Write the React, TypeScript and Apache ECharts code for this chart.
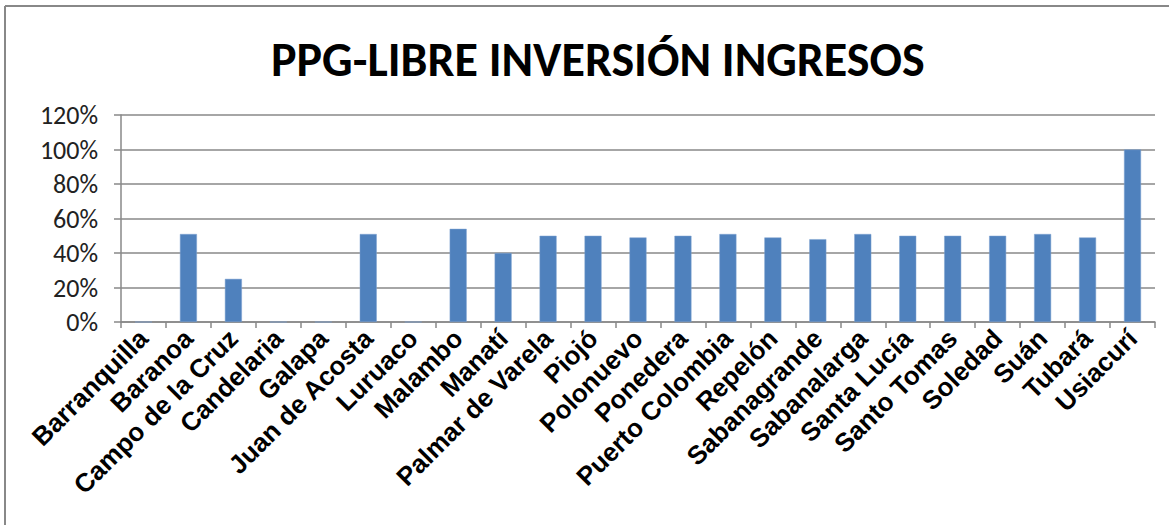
import React, { useEffect, useRef } from "react";
import * as echarts from "echarts";

const TITLE = "PPG-LIBRE INVERSIÓN INGRESOS";
const categories = [
  "Barranquilla", "Baranoa", "Campo de la Cruz", "Candelaria", "Galapa",
  "Juan de Acosta", "Luruaco", "Malambo", "Manatí", "Palmar de Varela",
  "Piojó", "Polonuevo", "Ponedera", "Puerto Colombia", "Repelón",
  "Sabanagrande", "Sabanalarga", "Santa Lucía", "Santo Tomas", "Soledad",
  "Suán", "Tubará", "Usiacurí",
];
const values = [
  0, 51, 25, 0, 0,
  51, 0, 54, 40, 50,
  50, 49, 50, 51, 49,
  48, 51, 50, 50, 50,
  51, 49, 100,
];
const yTicks = [0, 20, 40, 60, 80, 100, 120];

export default function App() {
  const ref = useRef<HTMLDivElement>(null);
  useEffect(() => {
    document.body.style.margin = "0";
    if (!ref.current) return;
    const chart = echarts.init(ref.current, undefined, { renderer: "svg" });
    chart.setOption({
      animation: false,
      backgroundColor: "#ffffff",
      title: {
        text: TITLE,
        left: 266,
        top: 30,
        textStyle: {
          fontFamily: "Carlito, Lato, sans-serif",
          fontWeight: "bold",
          fontSize: 48,
          color: "#000000",
        },
      },
      graphic: [
        { type: "line", shape: { x1: 5, y1: 6, x2: 1169, y2: 6 }, style: { stroke: "#888888", lineWidth: 2 } },
        { type: "line", shape: { x1: 5, y1: 6, x2: 5, y2: 525 }, style: { stroke: "#888888", lineWidth: 2 } },
      ],
      grid: { left: 121, top: 115, width: 1034, height: 207, containLabel: false },
      xAxis: {
        type: "category",
        data: categories,
        axisLine: { show: true, lineStyle: { color: "#888888", width: 1.5 } },
        axisTick: { show: true, alignWithLabel: false, length: 6, lineStyle: { color: "#888888", width: 1.5 } },
        axisLabel: {
          rotate: 45,
          interval: 0,
          margin: 12,
          fontFamily: "'Liberation Sans', Arial, sans-serif",
          fontWeight: "bold",
          fontSize: 26,
          color: "#000000",
        },
      },
      yAxis: {
        type: "value",
        min: yTicks[0],
        max: yTicks[yTicks.length - 1],
        interval: 20,
        axisLine: { show: true, lineStyle: { color: "#888888", width: 1.5 } },
        axisTick: { show: true, length: 7, lineStyle: { color: "#888888", width: 1.5 } },
        splitLine: { show: true, lineStyle: { color: "#888888", width: 1.5 } },
        axisLabel: {
          formatter: "{value}%",
          margin: 23,
          fontFamily: "Carlito, Lato, sans-serif",
          fontSize: 26,
          color: "#222222",
        },
      },
      series: [
        {
          type: "bar",
          data: values,
          barWidth: 17,
          itemStyle: { color: "#4F81BD", borderColor: "#7FA3D0", borderWidth: 0.5 },
        },
      ],
    });
    return () => chart.dispose();
  }, []);
  return <div ref={ref} style={{ width: 1169, height: 525 }} />;
}
